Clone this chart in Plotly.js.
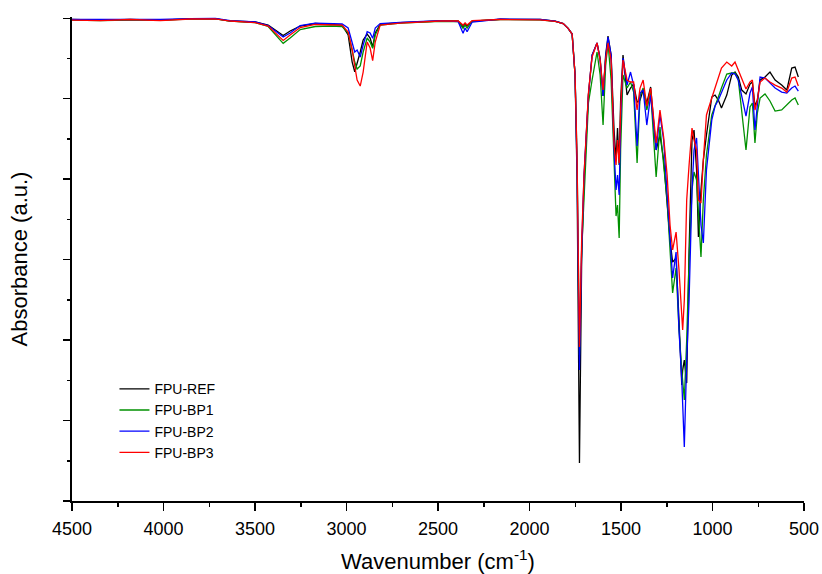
<!DOCTYPE html>
<html>
<head>
<meta charset="utf-8">
<script src="https://cdn.plot.ly/plotly-3.0.1.min.js"></script>
<style>html,body{margin:0;padding:0;background:#fff;}#chart{width:822px;height:574px;}</style>
</head>
<body>
<div id="chart"></div>
<script>
const wavenumber = [4500,4345,4182,4018,3854,3717,3635,3499,3428,3379,
3346,3308,3253,3171,3089,3024,2991,2969,2955,2942,
2925,2909,2887,2871,2857,2843,2816,2707,2488,2390,
2363,2352,2341,2313,2160,1942,1860,1816,1789,1767,
1751,1740,1727,1715,1702,1678,1658,1631,1614,1598,
1584,1571,1554,1538,1527,1519,1510,1502,1489,1467,
1448,1431,1412,1396,1379,1359,1338,1308,1287,1267,
1248,1232,1218,1199,1183,1168,1163,1154,1141,1128,
1112,1101,1087,1077,1063,1050,1033,1004,986,968,
951,922,895,877,859,840,817,795,782,768,
755,740,713,686,658,622,594,567,549,531];

const fpuRef = [5.985,5.978,5.985,5.978,5.993,5.997,5.966,5.954,5.916,5.842,
5.786,5.842,5.904,5.935,5.929,5.916,5.792,5.456,5.336,5.432,
5.581,5.730,5.804,5.755,5.643,5.817,5.923,5.945,5.966,5.966,
5.895,5.935,5.904,5.966,5.987,5.985,5.966,5.935,5.875,5.804,
5.295,3.990,0.472,2.995,3.990,5.046,5.543,5.693,5.506,5.034,
5.543,5.780,5.543,4.611,4.238,4.636,4.176,4.984,5.543,5.046,
5.133,5.183,4.959,4.984,5.108,4.947,5.146,4.363,4.549,4.238,
3.679,3.244,2.970,3.020,2.249,1.441,1.628,1.752,1.466,3.120,
4.487,4.611,4.114,3.281,3.865,4.238,4.549,5.021,5.046,4.984,
4.885,5.046,5.295,5.332,5.270,5.108,5.059,5.183,5.208,4.909,
4.984,5.233,5.270,5.332,5.233,5.170,5.108,5.382,5.394,5.270];

const fpuBp1 = [5.978,5.972,5.978,5.978,5.991,5.993,5.966,5.947,5.898,5.780,
5.689,5.755,5.860,5.898,5.904,5.898,5.817,5.606,5.456,5.369,
5.407,5.581,5.755,5.705,5.627,5.792,5.916,5.941,5.962,5.960,
5.875,5.916,5.879,5.966,5.985,5.981,5.962,5.935,5.875,5.804,
5.295,4.238,1.814,3.120,3.741,4.947,5.233,5.581,5.295,4.673,
5.407,5.693,5.233,4.238,3.542,3.679,3.269,4.363,5.295,5.133,
5.208,5.083,4.201,5.034,5.133,4.860,5.083,4.027,4.648,4.176,
3.741,3.120,2.585,2.896,2.125,1.628,1.441,1.255,2.001,2.995,
3.865,4.089,3.990,3.617,3.033,3.741,4.300,4.798,4.922,5.021,
5.133,5.307,5.320,5.320,5.233,4.860,4.363,4.897,4.947,4.450,
4.822,5.009,5.059,4.972,4.847,4.860,4.922,4.984,5.009,4.922];

const fpuBp2 = [5.985,5.985,5.991,5.985,5.997,6.000,5.972,5.954,5.910,5.829,
5.767,5.817,5.910,5.941,5.935,5.929,5.879,5.705,5.581,5.606,
5.519,5.668,5.835,5.817,5.751,5.879,5.935,5.950,5.972,5.960,
5.813,5.879,5.833,5.954,5.991,5.987,5.966,5.935,5.875,5.804,
5.295,4.114,1.628,3.120,4.052,5.046,5.543,5.693,5.481,5.034,
5.506,5.767,5.543,4.363,3.865,4.052,3.803,4.735,5.506,5.170,
5.332,5.170,4.412,5.071,5.108,4.673,5.046,4.363,4.798,4.487,
3.865,3.244,2.772,3.095,2.125,1.504,1.193,0.671,1.752,2.498,
3.865,4.363,4.512,4.114,3.430,3.207,4.114,4.735,4.909,4.984,
5.083,5.233,5.320,5.307,5.233,5.046,4.785,5.071,5.146,4.611,
4.947,5.270,5.257,5.195,5.133,5.083,5.071,5.133,5.158,5.096];

const fpuBp3 = [5.978,5.972,5.985,5.972,5.991,5.993,5.966,5.947,5.904,5.804,
5.724,5.792,5.885,5.923,5.923,5.916,5.829,5.606,5.407,5.233,
5.158,5.332,5.705,5.630,5.473,5.705,5.916,5.941,5.966,5.966,
5.916,5.941,5.916,5.972,5.985,5.981,5.962,5.935,5.875,5.804,
5.295,4.238,1.914,3.244,4.052,5.071,5.519,5.693,5.481,5.108,
5.481,5.693,5.481,4.425,4.176,4.487,4.201,4.860,5.481,5.233,
5.208,5.208,4.860,5.133,5.233,4.909,5.133,4.450,4.860,4.524,
4.052,3.430,3.120,3.343,2.871,2.312,2.125,2.498,3.741,4.176,
4.636,4.487,4.363,3.741,3.704,4.238,4.798,5.009,5.146,5.270,
5.382,5.456,5.407,5.456,5.357,5.257,5.121,5.208,5.233,4.860,
4.984,5.208,5.257,5.208,5.170,5.133,5.083,5.257,5.270,5.158];

const seriesNames = ["FPU-REF","FPU-BP1","FPU-BP2","FPU-BP3"];
const seriesColors = ["#000000","#009000","#0000ff","#ff0000"];
const seriesValues = [fpuRef, fpuBp1, fpuBp2, fpuBp3];
const xTickVals = [4500,4000,3500,3000,2500,2000,1500,1000,500];

const FONT = "Arial, 'Liberation Sans', sans-serif";

const traces = seriesValues.map((vals, i) => ({
  x: wavenumber, y: vals, type: "scatter", mode: "lines",
  name: seriesNames[i],
  line: {color: seriesColors[i], width: 1.3}
}));

const layout = {
  width: 822, height: 574,
  margin: {l: 72, r: 18, t: 17, b: 73},
  paper_bgcolor: "#ffffff", plot_bgcolor: "#ffffff",
  font: {family: FONT, color: "#000"},
  showlegend: true,
  legend: {x: 0.058, y: 0.264, xanchor: "left", yanchor: "top",
    bgcolor: "rgba(0,0,0,0)", font: {size: 14, family: FONT}},
  xaxis: {
    range: [4500, 500], tickvals: xTickVals, ticktext: xTickVals.map(String),
    showgrid: false, zeroline: false, showline: true, linecolor: "#000", linewidth: 1.6,
    ticks: "outside", ticklen: 8, tickwidth: 1.5, tickcolor: "#000",
    minor: {dtick: 250, tick0: 500, ticks: "outside", ticklen: 4, tickwidth: 1.5, tickcolor: "#000", showgrid: false},
    tickfont: {size: 18, family: FONT}, ticklabelstandoff: 3,
    title: {text: "Wavenumber (cm<sup>-1</sup>)", font: {size: 22, family: FONT}, standoff: 18}
  },
  yaxis: {
    range: [0, 6.016], dtick: 1, tick0: 0,
    showgrid: false, zeroline: false, showline: true, linecolor: "#000", linewidth: 1.6,
    ticks: "outside", ticklen: 7, tickwidth: 1.5, tickcolor: "#000",
    minor: {dtick: 0.5, ticks: "outside", ticklen: 3.5, tickwidth: 1.5, tickcolor: "#000", showgrid: false},
    showticklabels: false,
    title: {text: "Absorbance (a.u.)", font: {size: 22, family: FONT}, standoff: 30}
  }
};

Plotly.newPlot("chart", traces, layout, {displayModeBar: false, staticPlot: true});
</script>
</body>
</html>
